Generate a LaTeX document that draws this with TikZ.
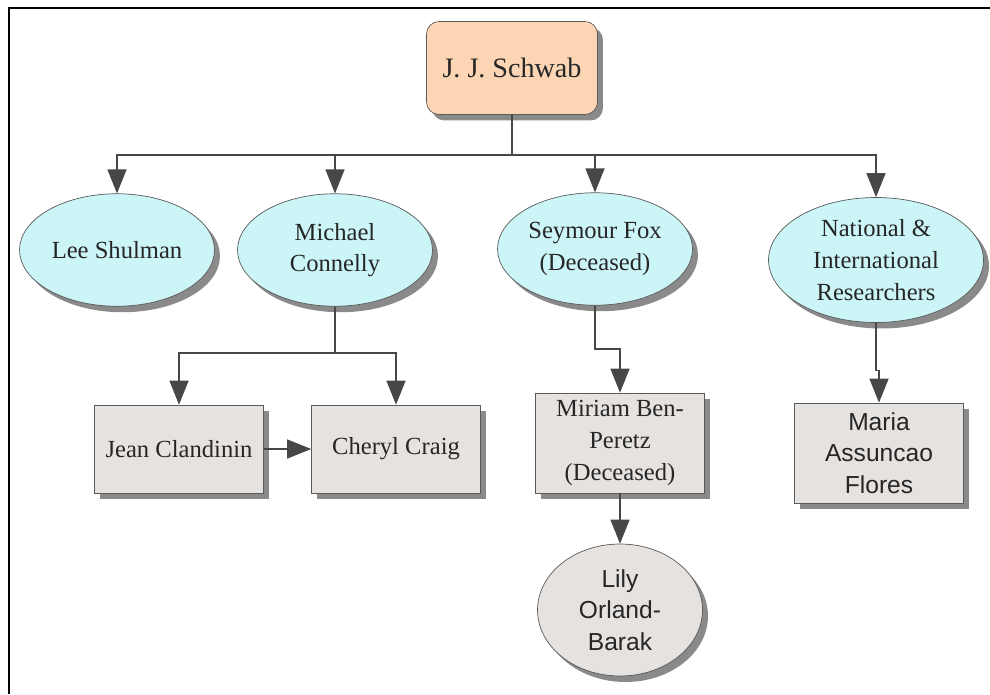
\documentclass[tikz,border=0pt]{standalone}
\usepackage{fontspec}
\setmainfont{Liberation Serif}
\newfontfamily\arialfont{Liberation Sans}
\usepackage{xcolor}
\usetikzlibrary{arrows.meta,calc,positioning,shadows,shapes.geometric}

\definecolor{peach}{HTML}{FCD6B4}
\definecolor{paleblue}{HTML}{CCF5F8}
\definecolor{boxgray}{HTML}{E5E2E0}
\definecolor{edgegray}{HTML}{5A5A5A}
\definecolor{shadowgray}{HTML}{8A8A8A}
\definecolor{arrowgray}{HTML}{474747}
\definecolor{inkgray}{HTML}{262626}

\tikzset{
  shade/.style={drop shadow={shadow xshift=0.11cm, shadow yshift=-0.12cm, fill=shadowgray, opacity=1}},
  person/.style={ellipse, draw=edgegray, fill=paleblue, shade, inner sep=0pt, align=center,
    text=inkgray, font=\fontsize{14}{18}\selectfont, minimum width=3.9cm, minimum height=2.25cm},
  namebox/.style={rectangle, draw=edgegray, fill=boxgray, shade, inner sep=0pt, align=center,
    text=inkgray, font=\fontsize{14}{18}\selectfont, minimum width=3.38cm, minimum height=1.76cm},
  link/.style={draw=arrowgray, line width=0.8pt, -{Triangle[length=0.48cm,width=0.38cm]}}
}

\begin{document}
\begin{tikzpicture}[x=0.02cm,y=-0.02cm]
		\useasboundingbox (0,0) rectangle (990,694);
		\draw[line width=1.6pt] (9,694) -- (9,8) -- (990,8);
		\node[rectangle, rounded corners=0.25cm, draw=edgegray, fill=peach, shade, text=inkgray,
		      minimum width=3.42cm, minimum height=1.86cm, font=\fontsize{16}{19}\selectfont] (schwab) at (512,68) {J. J. Schwab};
		\node[person] (shulman) at (117,250) {Lee Shulman};
		\node[person] (connelly) at (335,250) {Michael\\Connelly};
		\node[person] (fox) at (595,249) {Seymour Fox\\(Deceased)};
		\node[person, minimum width=4.3cm, minimum height=2.5cm] (researchers) at (876,260) {National \&\\International\\Researchers};
		\node[namebox] (clandinin) at (179,449) {Jean Clandinin};
		\node[namebox] (craig) at (396,449) {Cheryl Craig};
		\node[namebox, minimum height=2cm] (benperetz) at (620,443) {Miriam Ben-\\Peretz\\(Deceased)};
		\node[namebox, minimum height=2cm, font=\arialfont\fontsize{14}{18}\selectfont] (flores) at (879,453) {Maria\\Assuncao\\Flores};
		\node[ellipse, draw=edgegray, fill=boxgray, shade, inner sep=0pt, align=center, text=inkgray,
		      minimum width=3.3cm, minimum height=2.64cm, font=\arialfont\fontsize{14}{18}\selectfont] (orland) at (620,610) {Lily\\Orland-\\Barak};
		\coordinate (bus) at (0,155);
		\coordinate (split) at (0,353);
		\draw[draw=arrowgray, line width=0.8pt] (schwab.south) -- (schwab.south |- bus);
		\foreach \kid in {shulman,connelly,fox,researchers}
			\draw[link] (schwab.south |- bus) -| (\kid.north);
		\draw[draw=arrowgray, line width=0.8pt] (connelly.south) -- (connelly.south |- split);
		\draw[link] (connelly.south |- split) -| (clandinin.north);
		\draw[link] (connelly.south |- split) -| (craig.north);
		\draw[link] (clandinin.east) -- (craig.west);
		\draw[link] (fox.south) |- ($(fox.south)!0.5!(benperetz.north)$) -| (benperetz.north);
		\draw[link] (benperetz.south) -- (orland.north);
		\draw[link] (researchers.south) |- ($(researchers.south)!0.6!(flores.north)$) -| (flores.north);
\end{tikzpicture}
\end{document}
